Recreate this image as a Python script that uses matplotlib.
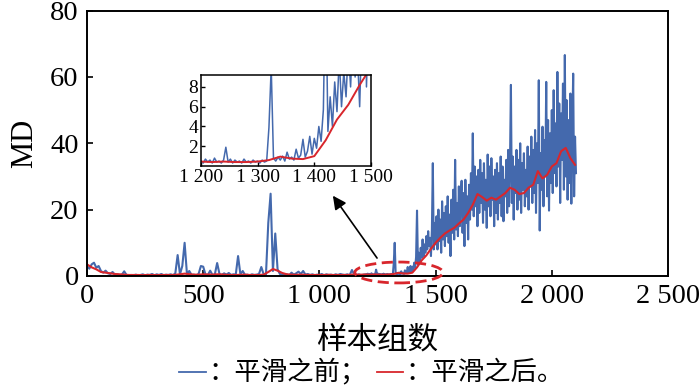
import matplotlib
matplotlib.use("Agg")
import matplotlib.pyplot as plt
import numpy as np
from matplotlib.patches import Ellipse
from matplotlib.lines import Line2D
from matplotlib.ticker import FuncFormatter

# blue (before smoothing), 0..1190 every 10 samples
blue_early = [3.0, 2.2, 3.5, 4.0, 2.5, 3.0, 1.5, 1.0, 1.6, 0.8,
              0.6, 1.2, 0.4, 0.5, 0.3, 0.4, 1.4, 0.3, 0.2, 0.3,
              0.2, 0.4, 0.2, 0.3, 0.5, 0.2, 0.4, 0.3, 0.6, 0.2,
              0.5, 0.3, 0.6, 0.2, 0.4, 0.3, 0.5, 0.2, 0.8, 6.3,
              0.5, 3.0, 10.0, 0.6, 1.5, 0.3, 0.4, 0.2, 0.6, 3.0,
              2.8, 0.4, 0.3, 1.6, 0.3, 0.5, 3.9, 0.6, 0.3, 0.8,
              0.4, 0.9, 0.3, 0.5, 0.4, 6.0, 0.5, 1.5, 0.3, 0.4,
              0.2, 0.5, 0.3, 0.4, 0.6, 2.7, 0.5, 0.4, 16.0, 24.8,
              1.5, 12.8, 2.0, 0.6, 0.4, 0.3, 0.5, 0.2, 1.0, 0.4,
              0.8, 1.3, 0.6, 1.5, 0.4, 0.6, 0.3, 0.5, 0.2, 0.4,
              0.3, 0.6, 0.2, 0.5, 0.3, 0.4, 0.2, 0.5, 0.3, 0.6,
              0.4, 0.3, 0.5, 0.2, 1.8, 0.4, 0.3, 0.5, 0.2, 0.4]

# blue, 1200..2104 every 4 samples
blue_late = [0.5, 0.3, 0.7, 0.4, 0.6, 0.3, 0.8, 0.4, 0.5, 0.3,
             0.6, 1.9, 0.4, 0.7, 0.3, 0.6, 0.4, 0.5, 0.3, 0.7,
             0.4, 0.5, 0.3, 0.6, 0.4, 0.5, 0.3, 0.6, 0.4, 0.5,
             3.9, 10.0, 0.8, 0.5, 0.9, 0.6, 1.0, 0.5, 1.4, 0.7,
             0.9, 0.6, 1.7, 0.8, 1.1, 2.7, 0.9, 1.5, 3.0, 1.2,
             2.8, 1.8, 4.0, 2.5, 5.7, 19.7, 3.5, 7.0, 4.0, 8.5,
             5.5, 11.0, 6.0, 9.5, 7.0, 12.0, 8.0, 13.5, 9.0, 11.5,
             6.0, 14.0, 34.0, 8.0, 16.0,
             9.5, 18.0, 8.0, 20.0, 10.5, 17.0, 7.0, 22.5, 11.0, 19.0,
             9.0, 21.0, 12.0, 24.0, 10.0, 18.5, 6.0, 23.0, 13.0, 26.0,
             11.0, 35.0, 14.0, 22.0, 12.0,
             27.0, 15.0, 24.0, 28.7, 13.0, 25.0, 9.0, 29.0, 16.0, 24.0,
             11.0, 27.5, 17.0, 31.0, 20.0, 43.0, 18.0, 33.0, 21.0, 30.0,
             15.0, 32.0, 19.0, 35.0, 22.0,
             31.0, 16.0, 34.0, 20.0, 29.0, 14.5, 36.6, 21.0, 33.0, 18.0,
             35.5, 23.0, 30.0, 15.0, 32.0, 19.0, 34.0, 17.0, 31.0, 22.0,
             36.0, 18.0, 33.0, 16.5, 29.0,
             24.0, 35.0, 19.0, 38.0, 21.0, 34.0, 57.6, 22.0, 36.0, 17.0,
             33.0, 25.0, 38.0, 20.0, 35.0, 23.0, 40.0, 19.0, 34.0, 26.0,
             37.0, 21.0, 32.0, 24.0, 39.0,
             20.0, 36.0, 27.0, 42.0, 22.0, 38.0, 25.0, 44.0, 19.0, 40.0,
             28.0, 59.0, 13.7, 37.0, 26.0, 45.0, 21.0, 41.0, 30.0, 58.5,
             24.0, 47.0, 19.7, 43.0, 28.0,
             50.0, 25.0, 56.0, 31.0, 46.0, 27.0, 61.5, 33.0, 52.0, 22.0,
             49.0, 35.0, 58.0, 26.0, 66.6, 30.0, 53.0, 23.0, 47.0, 28.0,
             55.0, 21.8, 44.0, 61.0, 24.0,
             42.0, 31.0]

# red (after smoothing), every 20 samples
red = [3.5, 2.6, 2.0, 1.2, 1.0, 0.8, 0.6, 0.5, 0.4, 0.3,
       0.3, 0.3, 0.25, 0.3, 0.3, 0.25, 0.3, 0.3, 0.3, 0.35,
       0.5, 0.7, 0.55, 0.4, 0.4, 0.5, 0.45, 0.4, 0.5, 0.45,
       0.35, 0.3, 0.3, 0.35, 0.4, 0.3, 0.3, 0.3, 0.4, 1.2,
       2.1, 1.6, 0.9, 0.5, 0.4, 0.35, 0.4, 0.35, 0.3, 0.3,
       0.3, 0.3, 0.35, 0.3, 0.3, 0.3, 0.3, 0.4, 0.35, 0.4,
       0.45, 0.4, 0.45, 0.4, 0.4, 0.45, 0.6, 0.95, 0.75, 0.7,
       1.0, 2.6, 4.7, 6.2, 8.2, 10.0, 11.5, 12.8, 13.7, 14.5,
       15.8, 17.0, 19.0, 21.5, 24.7, 23.8, 22.7, 23.6, 23.0, 24.0,
       25.0, 26.6, 26.0, 24.7, 25.0, 26.6, 27.5, 31.6, 29.4, 30.5,
       33.0, 34.0, 37.6, 38.6, 35.5, 33.5]

x_blue = np.concatenate([np.arange(0, 1200, 10), np.arange(1200, 2105, 4)])
y_blue = np.array(blue_early + blue_late)
x_red = np.arange(0, 2101, 20)

BLUE = "#4469ad"
RED = "#d8262c"
serif = "Liberation Serif"
cjk = ["Noto Sans CJK SC", "DejaVu Sans"]

def spaced(v, pos):
    return f"{int(v):,}".replace(",", " ")

fig = plt.figure(figsize=(7, 3.92), dpi=100)
ax = fig.add_axes([0.1243, 0.296, 0.830, 0.677])
ax.plot(x_blue, y_blue, color=BLUE, lw=1.5)
ax.plot(x_red, red, color=RED, lw=1.5)
ax.set_xlim(0, 2500)
ax.set_ylim(0, 80)
ax.set_xticks([0, 500, 1000, 1500, 2000, 2500])
ax.set_yticks([0, 20, 40, 60, 80])
ax.xaxis.set_major_formatter(FuncFormatter(spaced))
ax.tick_params(direction="in", length=4, width=1.2, labelsize=20.5, pad=6)
for lab in ax.get_xticklabels() + ax.get_yticklabels():
    lab.set_fontfamily(serif)
for s in ax.spines.values():
    s.set_linewidth(1.4)
ax.set_ylabel("MD", fontsize=22, fontfamily=serif, labelpad=8)

# dashed ellipse around the change point
ell = Ellipse((1342, 1.05), 379, 6.3, fill=False, edgecolor=RED,
              lw=2, linestyle=(0, (4, 2)), clip_on=False, zorder=5)
ax.add_patch(ell)
ax.annotate("", xy=(1058, 24.2), xytext=(1248, 5.4),
            arrowprops=dict(arrowstyle="-|>", color="black", lw=1.2,
                            mutation_scale=20, shrinkA=0, shrinkB=0))

# inset zoom
axi = fig.add_axes([0.287, 0.5765, 0.243, 0.232])
axi.plot(x_blue, y_blue, color=BLUE, lw=1.1)
axi.plot(x_red, red, color=RED, lw=1.4)
axi.set_xlim(1200, 1500)
axi.set_ylim(0, 9.2)
axi.set_xticks([1200, 1300, 1400, 1500])
axi.set_yticks([2, 4, 6, 8])
axi.xaxis.set_major_formatter(FuncFormatter(spaced))
axi.tick_params(direction="in", length=3, width=1, labelsize=14, pad=2)
for lab in axi.get_xticklabels() + axi.get_yticklabels():
    lab.set_fontfamily(serif)
for s in axi.spines.values():
    s.set_linewidth(1.1)

# axis title and caption
fig.text(0.539, 0.133, "样本组数", fontsize=22, family=cjk, ha="center", va="center")
fig.add_artist(Line2D([0.256, 0.294], [0.052, 0.052], color=BLUE, lw=1.3))
fig.text(0.297, 0.051, "：平滑之前；", fontsize=19, family=cjk, ha="left", va="center")
fig.add_artist(Line2D([0.539, 0.576], [0.052, 0.052], color=RED, lw=1.3))
fig.text(0.579, 0.051, "：平滑之后。", fontsize=19, family=cjk, ha="left", va="center")

fig.savefig("out.png", dpi=100)
